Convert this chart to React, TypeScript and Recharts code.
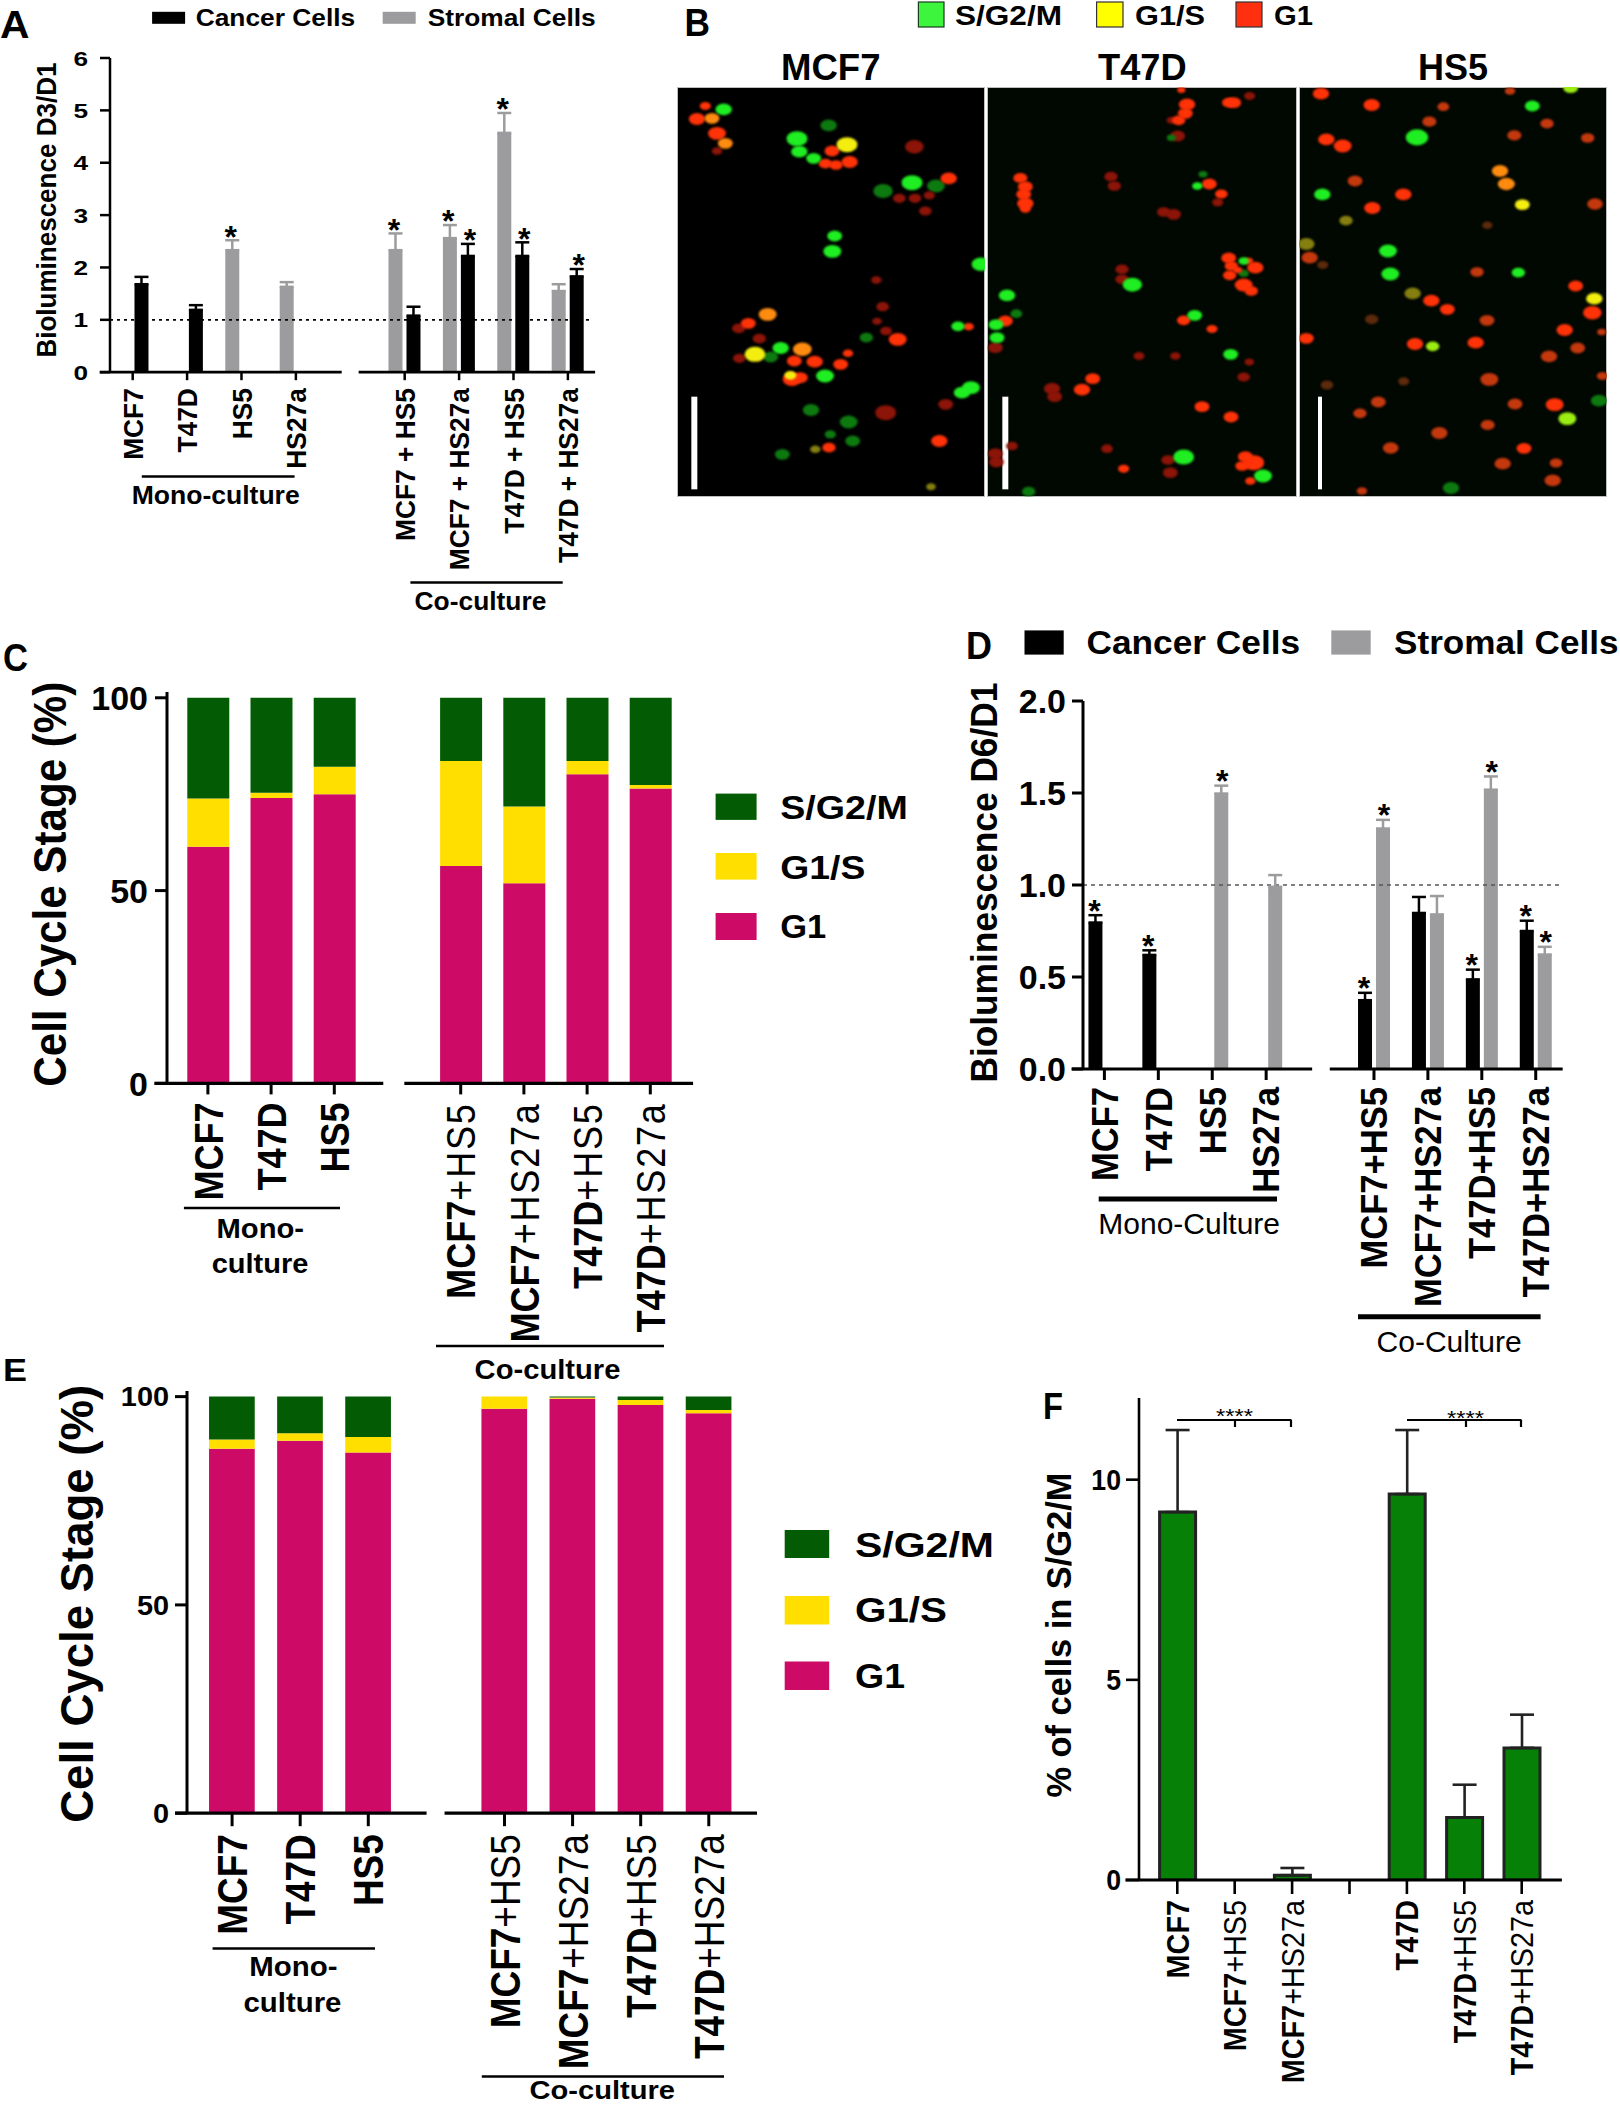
import React from 'react';
import {
  ComposedChart, ScatterChart, Scatter, Bar, ErrorBar, XAxis, YAxis, ReferenceLine, ReferenceDot, Legend,
} from 'recharts';

const FONT = '"Liberation Sans", Arial, sans-serif';
const BLACK = '#000000';
const GRAY = '#9c9c9f';
const C_G1 = '#cd0a65';
const C_G1S = '#ffdf00';
const C_S = '#035c03';

// ---------- Panel A
const aPos = [0, 1, 2, 3, 5, 6, 7, 8];
const aTicks = [0, 1, 2, 3, 4, 5, 6];
const aNames = ['MCF7', 'T47D', 'HS5', 'HS27a', 'MCF7 + HS5', 'MCF7 + HS27a', 'T47D + HS5', 'T47D + HS27a'];
const aCancer = [1.68, 1.19, null, null, 1.08, 2.22, 2.22, 1.83];
const aCancerErr = [0.14, 0.09, null, null, 0.17, 0.23, 0.26, 0.14];
const aCancerStar = [false, false, false, false, false, true, true, true];
const aStromal = [null, null, 2.33, 1.63, 2.33, 2.56, 4.57, 1.55];
const aStromalErr = [null, null, 0.19, 0.09, 0.32, 0.25, 0.38, 0.13];
const aStromalStar = [false, false, true, false, true, true, true, false];

// ---------- Panel D
const dPos = [0, 1, 2, 3, 5, 6, 7, 8];
const dTicks = [0, 0.5, 1, 1.5, 2];
const dNames = ['MCF7', 'T47D', 'HS5', 'HS27a', 'MCF7+HS5', 'MCF7+HS27a', 'T47D+HS5', 'T47D+HS27a'];
const dCancer = [0.796, 0.62, null, null, 0.374, 0.848, 0.487, 0.75];
const dCancerErr = [0.04, 0.025, null, null, 0.04, 0.087, 0.053, 0.056];
const dCancerStar = [true, true, false, false, true, false, true, true];
const dStromal = [null, null, 1.497, 0.99, 1.307, 0.84, 1.518, 0.622];
const dStromalErr = [null, null, 0.043, 0.064, 0.047, 0.1, 0.072, 0.042];
const dStromalStar = [false, false, true, false, true, false, true, true];

// ---------- Panels C and E
const stackPos = [0, 1, 2, 4, 5, 6, 7];
const stackTicks = [0, 50, 100];
const stackNames = ['MCF7', 'T47D', 'HS5', 'MCF7+HS5', 'MCF7+HS27a', 'T47D+HS5', 'T47D+HS27a'];
const cG1 = [61.4, 74, 75, 56.4, 51.9, 80.2, 76.5];
const cG1S = [12.5, 1.4, 7.1, 27.2, 19.9, 3.4, 0.9];
const cSG2M = [26.1, 24.6, 17.9, 16.4, 28.2, 16.4, 22.6];
const eG1 = [87.5, 89.4, 86.6, 97.1, 99.5, 98, 96];
const eG1S = [2.2, 1.8, 3.7, 2.9, 0.3, 1.2, 0.8];
const eSG2M = [10.3, 8.8, 9.7, 0, 0.2, 0.8, 3.2];

// ---------- Panel F
const fPos = [0, 1, 2, 3, 4, 5, 6];
const fTicks = [0, 5, 10];
const fNames = ['MCF7', 'MCF7+HS5', 'MCF7+HS27a', '', 'T47D', 'T47D+HS5', 'T47D+HS27a'];
const fValues = [9.19, 0, 0.12, null, 9.64, 1.56, 3.3];
const fErrs = [2.05, null, 0.18, null, 1.6, 0.82, 0.83];

type Pt = number[];
const mcfBright: Pt[] = [[140,70,22],[360,158,28],[367,197,22],[410,217,20],[705,290,28],[473,450,20],[466,496,24],[912,535,25],[843,721,18],[311,786,22],[444,870,24],[855,920,22],[882,905,24]];
const mcfDimGreen: Pt[] = [[618,315,26],[777,300,24],[402,972,22],[515,1008,24],[527,1065,20],[460,1045,15],[316,1105,20],[281,813,20],[568,755,18],[455,118,22]];
const mcfRed: Pt[] = [[60,99,22],[85,60,15],[120,142,24],[465,195,20],[445,233,18],[477,237,18],[518,228,22],[815,277,22],[662,760,24],[513,802,14],[491,835,20],[413,827,22],[352,825,20],[214,712,20],[787,1065,22],[875,722,14],[345,880,25],[370,875,20],[456,1085,18]];
const mcfDark: Pt[] = [[712,182,25],[667,337,17],[714,337,17],[757,328,15],[745,375,17],[120,195,14],[185,727,18],[247,758,18],[187,817,17],[627,735,16],[600,706,13],[617,662,17],[598,582,14],[626,980,28],[806,955,20]];
const mcfOrange: Pt[] = [[105,97,20],[272,685,24],[376,790,25],[145,172,20]];
const mcfYellow: Pt[] = [[510,176,28],[234,805,28],[340,868,16]];
const mcfOlive: Pt[] = [[415,1090,14],[762,1202,13]];

const t47Bright: Pt[] = [[60,628,22],[27,716,20],[30,755,20],[436,596,26],[623,688,20],[731,805,20],[590,1113,28],[828,1170,24],[631,300,14],[770,525,14]];
const t47DimGreen: Pt[] = [[88,683,16],[648,265,12],[553,155,12],[770,562,14],[125,1217,18]];
const t47Red: Pt[] = [[100,276,19],[115,302,20],[110,325,20],[115,352,22],[115,368,15],[600,55,22],[595,82,20],[575,103,18],[583,12,11],[740,50,20],[725,50,18],[667,294,20],[703,324,17],[725,516,20],[733,540,18],[728,568,18],[752,552,12],[785,525,12],[805,545,22],[793,615,18],[770,597,24],[590,703,18],[675,729,15],[645,962,20],[732,993,20],[285,911,22],[317,878,20],[55,705,20],[410,1148,15],[800,1130,28],[775,1112,20],[765,1140,18],[790,1185,14]];
const t47Dark: Pt[] = [[372,272,18],[382,300,18],[530,378,18],[560,385,20],[405,550,18],[405,580,18],[553,103,13],[572,150,20],[692,349,15],[456,810,15],[565,810,14],[787,828,13],[770,873,17],[195,908,22],[203,932,20],[25,785,20],[25,1103,20],[28,1128,20],[75,1080,16],[360,1088,16],[543,1122,18],[550,1160,20],[788,30,15]];

const hsBright: Pt[] = [[354,154,30],[700,60,20],[70,325,22],[267,495,24],[274,564,24],[658,560,18]];
const hsDimGreen: Pt[] = [[900,944,22],[456,1206,22]];
const hsLime: Pt[] = [[805,998,24],[401,781,18],[815,5,20]];
const hsRed: Pt[] = [[66,23,22],[218,57,22],[82,160,22],[131,180,24],[313,325,22],[220,366,22],[397,644,22],[445,670,20],[22,757,20],[348,774,22],[530,770,22],[767,956,24],[675,1087,20],[880,680,25],[797,732,22],[830,600,20]];
const hsOrange: Pt[] = [[603,255,22],[622,294,23]];
const hsYellow: Pt[] = [[670,356,20],[886,638,22]];
const hsBrick: Pt[] = [[433,62,16],[391,107,19],[744,113,18],[646,148,19],[866,156,18],[168,285,20],[888,354,21],[32,515,22],[534,558,18],[564,703,20],[836,786,20],[750,811,22],[571,880,24],[238,948,20],[183,982,18],[566,1017,19],[421,1041,22],[275,1086,21],[611,1133,22],[771,1131,17],[761,1183,22],[633,15,14],[648,954,20],[910,870,15],[908,738,12],[189,1215,14]];
const hsUmber: Pt[] = [[71,537,15],[84,897,17],[218,700,18],[314,886,15],[565,418,14]];
const hsOlive: Pt[] = [[22,474,22],[141,404,18],[341,622,22]];

const NUC = { bright: '#1fee22', dim: '#0d7a10', red: '#ff3208', dark: '#8c1408', orange: '#ff8c10', yellow: '#f4ee10', olive: '#857f10', lime: '#9cee12', brick: '#c4380e', umber: '#5c2a0c' };

const pts = (a: Pt[]) => a.map(([x, y, z]) => ({ x, y, z }));

// ---------- helpers
type Plot = { x0: number; x1: number; yTop: number; yBot: number };
type Pad = { l: number; t: number; r: number; b: number };
const frame = (p: Plot, d: Pad) => ({
  L: p.x0 - d.l, T: p.yTop - d.t,
  W: p.x1 - p.x0 + d.l + d.r, H: p.yBot - p.yTop + d.t + d.b,
  margin: { top: d.t, right: d.r, bottom: 0, left: 0 },
});
const boxStyle = (f: any): React.CSSProperties => ({ position: 'absolute', left: f.L, top: f.T });

const makeXTick = (pos: number[], names: string[], o: { fs: number; s: number; gap: number; mixed?: boolean; reg?: number }) => (p: any) => {
  const i = pos.indexOf(p.payload.value);
  const name = i >= 0 ? names[i] : '';
  if (!name) return <g />;
  const cut = name.indexOf('+');
  const useMix = o.mixed && cut > 0;
  return (
    <text transform={`translate(${p.x + o.fs * 0.36},${p.y + o.gap}) rotate(-90) scale(${o.s},1)`} textAnchor="end"
      fontFamily={FONT} fontSize={o.fs} fontWeight="bold" fill="#000">
      {useMix ? <><tspan>{name.slice(0, cut)}</tspan><tspan fontWeight="normal" letterSpacing={o.reg || 0}>{name.slice(cut)}</tspan></> : name}
    </text>
  );
};
const makeYTick = (o: { fs: number; s: number; gap: number; fmt?: (v: number) => string }) => (p: any) => (
  <text transform={`translate(${p.x - o.gap},${p.y + o.fs * 0.36}) scale(${o.s},1)`} textAnchor="end"
    fontFamily={FONT} fontSize={o.fs} fontWeight="bold" fill="#000">
    {o.fmt ? o.fmt(p.payload.value) : p.payload.value}
  </text>
);

type LegendItem = { name: string; rect: number[]; text: number[] };
const makeLegend = (f: any, items: LegendItem[]) => (props: any) => {
  const payload: any[] = props.payload || [];
  return (
    <svg width={f.W} height={f.H} viewBox={`${f.L} ${f.T} ${f.W} ${f.H}`} style={{ position: 'absolute', left: 0, top: 0 }}>
      {items.map((it) => {
        const e = payload.find((q) => q.value === it.name);
        return (
          <g key={it.name}>
            <rect x={it.rect[0]} y={it.rect[1]} width={it.rect[2]} height={it.rect[3]} fill={e ? e.color : '#000'} />
            <text x={it.text[0]} y={it.text[1]} fontSize={it.text[2]} textLength={it.text[3]} lengthAdjust="spacingAndGlyphs"
              fontFamily={FONT} fontWeight="bold" fill="#000">{it.name}</text>
          </g>
        );
      })}
    </svg>
  );
};
const legendEl = (f: any, items: LegendItem[]) => (
  <Legend layout="vertical" align="center" verticalAlign="middle"
    wrapperStyle={{ left: 0, top: 0, width: f.W, height: f.H, pointerEvents: 'none' }}
    content={makeLegend(f, items)} />
);

const segLine = (a: number, b: number, sw: number) => (
  <ReferenceLine key={`s${a}`} segment={[{ x: a, y: 0 }, { x: b, y: 0 }]} stroke="#000" strokeWidth={sw} ifOverflow="visible" />
);

const errOf = (key: string) => (d: any) => (d[key] == null ? null : [0, d[key]]);

const starDots = (pos: number[], vals: any[], errs: any[], flags: boolean[], off: number, fs: number, lift: number) =>
  pos.map((x, i) => (flags[i] ? (
    <ReferenceDot key={`st${off}${i}`} x={x + off} y={vals[i] + errs[i]} r={0} ifOverflow="visible"
      shape={(p: any) => (
        <text x={p.cx} y={p.cy - lift + fs * 0.42} textAnchor="middle" fontFamily={FONT} fontSize={fs} fontWeight="bold" fill="#000">*</text>
      )} />
  ) : null));

const T = ({ x, y, t, fs, len, rot, w = 'bold' }: any) => (
  <text x={x} y={y} transform={rot ? `rotate(-90 ${x} ${y})` : undefined} fontFamily={FONT} fontSize={fs} fontWeight={w}
    fill="#000" textLength={len} lengthAdjust="spacingAndGlyphs">{t}</text>
);
const HL = ({ x1, x2, y, sw = 2.5 }: any) => <line x1={x1} x2={x2} y1={y} y2={y} stroke="#000" strokeWidth={sw} />;

// ---------- Chart rows
const aRows = aPos.map((x, i) => ({ x, cancer: aCancer[i], cancerErr: aCancerErr[i], stromal: aStromal[i], stromalErr: aStromalErr[i] }));
const dRows = dPos.map((x, i) => ({ x, cancer: dCancer[i], cancerErr: dCancerErr[i], stromal: dStromal[i], stromalErr: dStromalErr[i] }));
const cRows = stackPos.map((x, i) => ({ x, g1: cG1[i], g1s: cG1S[i], s: cSG2M[i] }));
const eRows = stackPos.map((x, i) => ({ x, g1: eG1[i], g1s: eG1S[i], s: eSG2M[i] }));
const fRows = fPos.map((x, i) => ({ x, v: fValues[i], err: fErrs[i] }));

const axisLine = (sw: number) => ({ stroke: '#000', strokeWidth: sw });

function PanelA() {
  const p = { x0: 110.3, x1: 595.4, yTop: 58.2, yBot: 372.4 };
  const f = frame(p, { l: 90, t: 58, r: 20, b: 200 });
  const items: LegendItem[] = [
    { name: 'Cancer Cells', rect: [152.4, 12, 33, 12], text: [196, 26.5, 24, 159.5] },
    { name: 'Stromal Cells', rect: [383, 12, 33, 12], text: [428, 26.5, 24, 168] },
  ];
  return (
    <div style={boxStyle(f)}>
      <ComposedChart width={f.W} height={f.H} data={aRows} margin={f.margin}>
        <XAxis dataKey="x" type="number" domain={[-0.417, 8.5]} allowDataOverflow ticks={aPos} interval={0} height={200}
          axisLine={false} tickLine={axisLine(2.5)} tickSize={8} tickMargin={0}
          tick={makeXTick(aPos, aNames, { fs: 28, s: 0.94, gap: 8 })} />
        <YAxis type="number" domain={[0, 6]} ticks={aTicks} interval={0} width={90} axisLine={axisLine(2.5)} tickLine={axisLine(2.5)}
          tickSize={10} tickMargin={0} tick={makeYTick({ fs: 21, s: 1.25, gap: 12 })} />
        <ReferenceLine segment={[{ x: -0.417, y: 1 }, { x: 8.42, y: 1 }]} stroke="#000" strokeWidth={1.8} strokeDasharray="3 4" ifOverflow="visible" />
        <Bar dataKey="stromal" name="Stromal Cells" fill={GRAY} barSize={14} isAnimationActive={false}>
          <ErrorBar dataKey={errOf('stromalErr')} width={7} stroke={GRAY} strokeWidth={2.5} isAnimationActive={false} />
        </Bar>
        <Bar dataKey="cancer" name="Cancer Cells" fill={BLACK} barSize={14} isAnimationActive={false}>
          <ErrorBar dataKey={errOf('cancerErr')} width={7} stroke={BLACK} strokeWidth={2.5} isAnimationActive={false} />
        </Bar>
        {segLine(-0.607, 3.842, 2.8)}
        {segLine(4.154, 8.5, 2.8)}
        {starDots(aPos, aStromal, aStromalErr, aStromalStar, -0.198, 32, 6)}
        {starDots(aPos, aCancer, aCancerErr, aCancerStar, 0.198, 32, 6)}
        {legendEl(f, items)}
      </ComposedChart>
    </div>
  );
}

function PanelD() {
  const p = { x0: 1083.3, x1: 1563, yTop: 701, yBot: 1069 };
  const f = frame(p, { l: 100, t: 80, r: 57, b: 260 });
  const items: LegendItem[] = [
    { name: 'Cancer Cells', rect: [1024.8, 630.4, 39.2, 24.2], text: [1086.8, 653.6, 33, 213.6] },
    { name: 'Stromal Cells', rect: [1331.6, 630.4, 39.4, 24.2], text: [1394.4, 653.6, 33, 224.4] },
  ];
  return (
    <div style={boxStyle(f)}>
      <ComposedChart width={f.W} height={f.H} data={dRows} margin={f.margin}>
        <XAxis dataKey="x" type="number" domain={[-0.397, 8.5]} allowDataOverflow ticks={dPos} interval={0} height={260}
          axisLine={false} tickLine={axisLine(3)} tickSize={11} tickMargin={0}
          tick={makeXTick(dPos, dNames, { fs: 37, s: 0.935, gap: 7 })} />
        <YAxis type="number" domain={[0, 2]} ticks={dTicks} interval={0} width={100} axisLine={axisLine(3)} tickLine={axisLine(3)}
          tickSize={11} tickMargin={0} tick={makeYTick({ fs: 34, s: 1, gap: 6, fmt: (v) => v.toFixed(1) })} />
        <ReferenceLine segment={[{ x: -0.397, y: 1 }, { x: 8.5, y: 1 }]} stroke="#555" strokeWidth={1.5} strokeDasharray="4 4" ifOverflow="visible" />
        <Bar dataKey="cancer" name="Cancer Cells" fill={BLACK} barSize={14} isAnimationActive={false}>
          <ErrorBar dataKey={errOf('cancerErr')} width={7} stroke={BLACK} strokeWidth={2.5} isAnimationActive={false} />
        </Bar>
        <Bar dataKey="stromal" name="Stromal Cells" fill={GRAY} barSize={14} isAnimationActive={false}>
          <ErrorBar dataKey={errOf('stromalErr')} width={7} stroke={GRAY} strokeWidth={2.5} isAnimationActive={false} />
        </Bar>
        {segLine(-0.61, 3.853, 3.2)}
        {segLine(4.18, 8.5, 3.2)}
        {starDots(dPos, dCancer, dCancerErr, dCancerStar, -0.186, 32, 7)}
        {starDots(dPos, dStromal, dStromalErr, dStromalStar, 0.186, 32, 7)}
        {legendEl(f, items)}
      </ComposedChart>
    </div>
  );
}

function StackPanel({ rows, plot, dom, yTop, seg, barSize, yt, xt, legend, pad, axisSw }: any) {
  const f = frame(plot, pad);
  return (
    <div style={boxStyle(f)}>
      <ComposedChart width={f.W} height={f.H} data={rows} margin={f.margin}>
        <XAxis dataKey="x" type="number" domain={dom} allowDataOverflow ticks={stackPos} interval={0} height={pad.b}
          axisLine={false} tickLine={axisLine(axisSw)} tickSize={xt.size} tickMargin={0}
          tick={makeXTick(stackPos, stackNames, { fs: xt.fs, s: xt.s, gap: xt.gap, mixed: true, reg: xt.reg })} />
        <YAxis type="number" domain={[0, yTop]} allowDataOverflow ticks={stackTicks} interval={0} width={pad.l} axisLine={axisLine(axisSw)}
          tickLine={axisLine(axisSw)} tickSize={yt.size} tickMargin={0} tick={makeYTick({ fs: yt.fs, s: yt.s, gap: yt.gap })} />
        <Bar dataKey="g1" name="G1" stackId="a" fill={C_G1} barSize={barSize} isAnimationActive={false} />
        <Bar dataKey="g1s" name="G1/S" stackId="a" fill={C_G1S} barSize={barSize} isAnimationActive={false} />
        <Bar dataKey="s" name="S/G2/M" stackId="a" fill={C_S} barSize={barSize} isAnimationActive={false} />
        {segLine(seg[0], seg[1], axisSw + 0.3)}
        {segLine(seg[2], seg[3], axisSw + 0.3)}
        {legendEl(f, legend)}
      </ComposedChart>
    </div>
  );
}

function PanelF() {
  const p = { x0: 1138.6, x1: 1561.5, yTop: 1398, yBot: 1880 };
  const f = frame(p, { l: 90, t: 10, r: 30, b: 220 });
  return (
    <div style={boxStyle(f)}>
      <ComposedChart width={f.W} height={f.H} data={fRows} margin={f.margin}>
        <XAxis dataKey="x" type="number" domain={[-0.667, 6.7]} allowDataOverflow ticks={fPos} interval={0} height={220}
          axisLine={false} tickLine={axisLine(2.6)} tickSize={14} tickMargin={0}
          tick={makeXTick(fPos, fNames, { fs: 32, s: 0.9, gap: 6, mixed: true })} />
        <YAxis type="number" domain={[0, 12.04]} allowDataOverflow ticks={fTicks} interval={0} width={90} axisLine={axisLine(2.6)}
          tickLine={axisLine(2.6)} tickSize={13} tickMargin={0} tick={makeYTick({ fs: 29, s: 0.92, gap: 5 })} />
        <Bar dataKey="v" name="% of cells in S/G2/M" fill="#078007" stroke="#222222" strokeWidth={3} barSize={36} isAnimationActive={false}>
          <ErrorBar dataKey={errOf('err')} width={12} stroke="#222222" strokeWidth={2.6} isAnimationActive={false} />
        </Bar>
        {segLine(-0.904, 6.7, 2.8)}
      </ComposedChart>
    </div>
  );
}

const nucleus = (fill: string) => (p: any) => {
  const z = ((p.payload?.z ?? 20) / 3) * 1.12;
  return <ellipse cx={p.cx} cy={p.cy} rx={z} ry={z * 0.72} fill={fill} style={{ filter: 'blur(0.9px)' }} />;
};

function Micro({ left, width, bar, barW, bg, series }: any) {
  return (
    <div style={{ position: 'absolute', left, top: 87, width, height: 410, background: bg, outline: '1px solid #bdbdbd', outlineOffset: '-1px' }}>
      <ScatterChart width={width} height={410} margin={{ top: 0, right: 0, bottom: 0, left: 0 }}>
        <XAxis type="number" dataKey="x" domain={[0, width * 3]} hide allowDataOverflow />
        <YAxis type="number" dataKey="y" domain={[3, 1233]} reversed hide allowDataOverflow />
        {series.map((s: any) => (
          <Scatter key={s.name} name={s.name} data={pts(s.data)} shape={nucleus(s.fill)} isAnimationActive={false} />
        ))}
        <ReferenceLine segment={[{ x: bar, y: 932 }, { x: bar, y: 1210 }]} stroke="#fff" strokeWidth={barW} />
      </ScatterChart>
    </div>
  );
}

export default function App() {
  const cLegend: LegendItem[] = [
    { name: 'S/G2/M', rect: [715.3, 793.6, 41, 26.3], text: [780, 819, 33, 127.5] },
    { name: 'G1/S', rect: [715.3, 853, 41, 26.6], text: [780, 878.7, 33, 85] },
    { name: 'G1', rect: [715.3, 913, 41, 27], text: [780, 938.5, 33, 46] },
  ];
  const eLegend: LegendItem[] = [
    { name: 'S/G2/M', rect: [784.5, 1530, 44.5, 28], text: [854.8, 1557, 36, 139] },
    { name: 'G1/S', rect: [784.5, 1596, 44.5, 28.5], text: [854.8, 1622, 36, 92] },
    { name: 'G1', rect: [784.5, 1661.5, 44.5, 28.5], text: [854.8, 1688, 36, 50] },
  ];
  return (
    <div style={{ position: 'absolute', left: 0, top: 0, width: 1620, height: 2105, background: '#fff', overflow: 'hidden' }}>
      <PanelA />
      <Micro left={677} width={308} bar={52} barW={6} bg="#000" series={[
        { name: 'dim', data: mcfDimGreen, fill: NUC.dim }, { name: 'dark', data: mcfDark, fill: NUC.dark }, { name: 'olive', data: mcfOlive, fill: NUC.olive },
        { name: 'G1', data: mcfRed, fill: NUC.red }, { name: 'orange', data: mcfOrange, fill: NUC.orange },
        { name: 'S/G2/M', data: mcfBright, fill: NUC.bright }, { name: 'G1/S', data: mcfYellow, fill: NUC.yellow },
      ]} />
      <Micro left={987} width={310} bar={55} barW={6} bg="#010701" series={[
        { name: 'dark', data: t47Dark, fill: NUC.dark }, { name: 'dim', data: t47DimGreen, fill: NUC.dim },
        { name: 'G1', data: t47Red, fill: NUC.red }, { name: 'S/G2/M', data: t47Bright, fill: NUC.bright },
      ]} />
      <Micro left={1299} width={308} bar={63} barW={4} bg="#010701" series={[
        { name: 'umber', data: hsUmber, fill: NUC.umber }, { name: 'brick', data: hsBrick, fill: NUC.brick }, { name: 'olive', data: hsOlive, fill: NUC.olive },
        { name: 'dim', data: hsDimGreen, fill: NUC.dim }, { name: 'G1', data: hsRed, fill: NUC.red }, { name: 'orange', data: hsOrange, fill: NUC.orange },
        { name: 'lime', data: hsLime, fill: NUC.lime }, { name: 'S/G2/M', data: hsBright, fill: NUC.bright }, { name: 'G1/S', data: hsYellow, fill: NUC.yellow },
      ]} />
      <StackPanel rows={cRows} plot={{ x0: 166.7, x1: 692.8, yTop: 692, yBot: 1083.4 }} dom={[-0.647, 7.677]} yTop={101.5}
        seg={[-0.848, 2.775, 3.108, 7.677]} barSize={42} axisSw={3}
        yt={{ fs: 34, s: 1, gap: 7, size: 12 }} xt={{ fs: 41, s: 0.88, gap: 8, size: 11, reg: 2 }}
        legend={cLegend} pad={{ l: 90, t: 20, r: 230, b: 270 }} />
      <PanelD />
      <StackPanel rows={eRows} plot={{ x0: 186.8, x1: 756.8, yTop: 1391, yBot: 1813.2 }} dom={[-0.662, 7.708]} yTop={101.35}
        seg={[-0.836, 2.856, 3.12, 7.708]} barSize={45.7} axisSw={3}
        yt={{ fs: 27, s: 1.07, gap: 6, size: 12 }} xt={{ fs: 42, s: 0.88, gap: 8, size: 13 }}
        legend={eLegend} pad={{ l: 90, t: 10, r: 260, b: 270 }} />
      <PanelF />
      <svg width={1620} height={2105} style={{ position: 'absolute', left: 0, top: 0, pointerEvents: 'none' }}>
        {/* Panel A annotations */}
        <T x={0} y={38} t="A" fs={39} len={29.5} />
        <T x={55.6} y={357.6} t="Bioluminescence D3/D1" fs={27.6} len={295} rot />
        <HL x1={141.8} x2={294.6} y={476.5} />
        <T x={131.7} y={504} t="Mono-culture" fs={25} len={168} />
        <HL x1={410.4} x2={562.7} y={582.6} />
        <T x={414.6} y={609.5} t="Co-culture" fs={25} len={131.7} />
        {/* Panel B annotations */}
        <T x={684.5} y={36.4} t="B" fs={39} len={25.5} />
        <rect x={918.4} y={2} width={25.6} height={25} fill="#3df53d" stroke="#1c3a1c" strokeWidth={1.2} />
        <T x={955} y={25.4} t="S/G2/M" fs={27} len={107} />
        <rect x={1096.6} y={2} width={26.4} height={25} fill="#ffff00" stroke="#333" strokeWidth={1.2} />
        <T x={1135} y={25.4} t="G1/S" fs={27} len={70} />
        <rect x={1236} y={2} width={26} height={25} fill="#ff3010" stroke="#333" strokeWidth={1.2} />
        <T x={1274} y={25.4} t="G1" fs={27} len={39} />
        <T x={781} y={79.7} t="MCF7" fs={36} len={99.5} />
        <T x={1098} y={79.7} t="T47D" fs={36} len={88.6} />
        <T x={1418} y={79.7} t="HS5" fs={36} len={70} />
        {/* Panel C annotations */}
        <T x={3} y={670.6} t="C" fs={38} len={25} />
        <T x={66.4} y={1086.7} t="Cell Cycle Stage (%)" fs={46} len={405} rot />
        <HL x1={183.9} x2={340} y={1208} />
        <T x={216.5} y={1238.3} t="Mono-" fs={28} len={87.5} />
        <T x={211.7} y={1273} t="culture" fs={28} len={96.7} />
        <HL x1={436} x2={664} y={1346} />
        <T x={474.6} y={1379} t="Co-culture" fs={28} len={145.8} />
        {/* Panel D annotations */}
        <T x={966} y={659.4} t="D" fs={38} len={26} />
        <T x={997} y={1082.6} t="Bioluminescence D6/D1" fs={36} len={400} rot />
        <HL x1={1098.7} x2={1277} y={1199} sw={5} />
        <T x={1098.3} y={1233.8} t="Mono-Culture" fs={30} len={181.7} w="normal" />
        <HL x1={1358} x2={1540.6} y={1316.7} sw={5} />
        <T x={1376.5} y={1351.6} t="Co-Culture" fs={30} len={145.3} w="normal" />
        {/* Panel E annotations */}
        <T x={3} y={1381} t="E" fs={32} len={24} />
        <T x={93.4} y={1822.8} t="Cell Cycle Stage (%)" fs={47} len={438} rot />
        <HL x1={212.6} x2={375} y={1948.5} />
        <T x={249.3} y={1976} t="Mono-" fs={28} len={88.2} />
        <T x={243.5} y={2012} t="culture" fs={28} len={97.9} />
        <HL x1={481.8} x2={724} y={2076.6} />
        <T x={529.5} y={2099} t="Co-culture" fs={26} len={145.5} />
        {/* Panel F annotations */}
        <T x={1043} y={1419} t="F" fs={36} len={20} />
        <T x={1071} y={1797.6} t="% of cells in S/G2/M" fs={35} len={325} rot />
        <HL x1={1177} x2={1291.5} y={1420} sw={2.2} />
        <line x1={1235} x2={1235} y1={1420} y2={1427} stroke="#000" strokeWidth={2.2} />
        <line x1={1291} x2={1291} y1={1420} y2={1427} stroke="#000" strokeWidth={2.2} />
        <T x={1216} y={1423} t="****" fs={21} len={37} w="normal" />
        <HL x1={1407} x2={1521.5} y={1420} sw={2.2} />
        <line x1={1466} x2={1466} y1={1420} y2={1427} stroke="#000" strokeWidth={2.2} />
        <line x1={1521} x2={1521} y1={1420} y2={1427} stroke="#000" strokeWidth={2.2} />
        <T x={1447} y={1424.5} t="****" fs={21} len={37} w="normal" />
      </svg>
    </div>
  );
}
